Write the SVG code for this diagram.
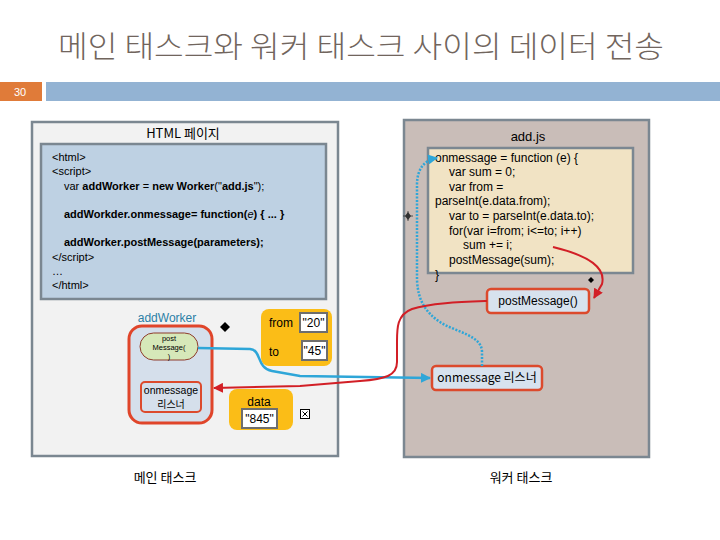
<svg xmlns="http://www.w3.org/2000/svg" width="720" height="540" viewBox="0 0 720 540">
<defs>
<style>
text{font-family:"Liberation Sans","Noto Sans CJK KR",sans-serif;fill:#000}
.title{font-family:"Noto Sans CJK KR","Liberation Sans",sans-serif;font-size:30px;fill:#71655d;font-weight:300}
.kr{font-family:"Noto Sans CJK KR","Liberation Sans",sans-serif}
.code{font-size:11px}
.b{font-weight:bold}
.wcode{font-size:12px}
.panel{stroke:#7b8791;stroke-width:2.5}
.org{fill:#fbbd17}
.val{fill:#fff;stroke:#6e6e6e;stroke-width:2}
.cy{fill:none;stroke:#2ea6d8;stroke-width:2.5}
.rd{fill:none;stroke:#d21f26;stroke-width:2}
</style>
<marker id="ab" viewBox="0 0 10 10" refX="9" refY="5" markerWidth="4" markerHeight="4" orient="auto"><path d="M0,0 L10,5 L0,10 z" fill="#2ea6d8"/></marker>
<marker id="ar" viewBox="0 0 10 10" refX="9" refY="5" markerWidth="5" markerHeight="5" orient="auto"><path d="M0,0 L10,5 L0,10 z" fill="#d21f26"/></marker>
</defs>
<rect width="720" height="540" fill="#fff"/>
<text class="title" x="361" y="57" text-anchor="middle" textLength="606" lengthAdjust="spacingAndGlyphs">메인 태스크와 워커 태스크 사이의 데이터 전송</text>
<rect x="0" y="82" width="42" height="19" fill="#e07b39"/>
<text x="20" y="96" text-anchor="middle" font-size="11" style="fill:#fff">30</text>
<rect x="46" y="82" width="674" height="19" fill="#93b3d3"/>

<g id="main-task">
<rect class="panel" x="32" y="122" width="306" height="334" fill="#f2f2f2"/>
<text class="kr" x="183" y="138" text-anchor="middle" font-size="13">HTML 페이지</text>
<rect class="panel" x="41" y="144" width="285" height="155" fill="#bed1e3"/>
<text class="code" x="52" y="161">&lt;html&gt;</text>
<text class="code" x="52" y="175">&lt;script&gt;</text>
<text class="code" x="64" y="190">var <tspan class="b">addWorker</tspan> = <tspan class="b">new Worker</tspan>("<tspan class="b">add.js</tspan>");</text>
<text class="code b" x="64" y="218">addWorkder.onmessage= function(<tspan font-style="italic" font-weight="normal">e</tspan>) { ... }</text>
<text class="code b" x="64" y="246">addWorker.postMessage(parameters);</text>
<text class="code" x="52" y="261">&lt;/script&gt;</text>
<text class="code" x="52" y="275">…</text>
<text class="code" x="52" y="289">&lt;/html&gt;</text>
<text class="kr" x="165" y="482" text-anchor="middle" font-size="13">메인 태스크</text>
</g>

<g id="worker-task">
<rect class="panel" x="404" y="120" width="245" height="337" fill="#c9bdb8"/>
<text x="528" y="141" text-anchor="middle" font-size="13">add.js</text>
<rect class="panel" x="428" y="148" width="205" height="125" fill="#f1e3c4"/>
<text class="wcode" x="435" y="162">onmessage = function (e) {</text>
<text class="wcode" x="449" y="176">var sum = 0;</text>
<text class="wcode" x="449" y="191">var from =</text>
<text class="wcode" x="435" y="205">parseInt(e.data.from);</text>
<text class="wcode" x="449" y="220">var to = parseInt(e.data.to);</text>
<text class="wcode" x="449" y="235">for(var i=from; i&lt;=to; i++)</text>
<text class="wcode" x="463" y="249">sum += i;</text>
<text class="wcode" x="449" y="264">postMessage(sum);</text>
<text class="wcode" x="435" y="279">}</text>
<text class="kr" x="521" y="482" text-anchor="middle" font-size="13">워커 태스크</text>
</g>

<g id="worker-postmessage">
<rect x="487" y="289" width="102" height="24" rx="4" fill="#d7e2ee" stroke="#dc4a2c" stroke-width="2.5"/>
<text x="538" y="305" text-anchor="middle" font-size="12">postMessage()</text>
</g>

<g id="worker-onmessage">
<rect x="432" y="366" width="110" height="24" rx="4" fill="#d7e2ee" stroke="#dc4a2c" stroke-width="2.5"/>
<text class="kr" x="487" y="382" text-anchor="middle" font-size="12">onmessage 리스너</text>
</g>

<g id="addworker">
<text x="167" y="322" text-anchor="middle" font-size="12" style="fill:#2b7fa6">addWorker</text>
<rect x="129" y="326" width="83" height="97" rx="13" fill="#d5dfeb" stroke="#e0452a" stroke-width="3"/>
</g>

<g id="main-postmessage">
<rect x="140" y="333" width="58" height="27" rx="13.5" fill="#d6e8b9" stroke="#8e3b2c" stroke-width="1"/>
<text x="169" y="341" text-anchor="middle" font-size="7.5">post</text>
<text x="169" y="350" text-anchor="middle" font-size="7.5">Message(</text>
<text x="169" y="359" text-anchor="middle" font-size="7.5">)</text>
</g>

<g id="main-onmessage">
<rect x="141" y="382" width="60" height="30" rx="4" fill="#d5dfeb" stroke="#dc4a2c" stroke-width="2"/>
<text x="171" y="394" text-anchor="middle" font-size="10.5">onmessage</text>
<text class="kr" x="171" y="408" text-anchor="middle" font-size="10">리스너</text>
</g>

<g id="params">
<rect class="org" x="261" y="309" width="71" height="57" rx="8"/>
<text x="269" y="327" font-size="12">from</text>
<text x="269" y="356" font-size="12">to</text>
<rect class="val" x="300" y="313" width="27" height="19"/>
<text x="313.5" y="327" text-anchor="middle" font-size="12">"20"</text>
<rect class="val" x="302" y="341" width="25" height="19"/>
<text x="314.5" y="355" text-anchor="middle" font-size="12">"45"</text>
</g>

<g id="data">
<rect class="org" x="229" y="389" width="64" height="41" rx="8"/>
<text x="259" y="406" text-anchor="middle" font-size="12">data</text>
<rect class="val" x="242" y="409" width="35" height="19"/>
<text x="259.5" y="423" text-anchor="middle" font-size="12">"845"</text>
</g>

<g id="marks">
<path d="M225,322 L230,327 L225,332 L220,327 z" fill="#000"/>
<path d="M591,277 L594,280 L591,283 L588,280 z" fill="#000"/>
<path d="M408,212 L411,216 L408,220 L405,216 z" fill="#333"/>
<path d="M403,216 H413 M408,211 V221" stroke="#333" stroke-width="0.8"/>
<rect x="300.5" y="409.5" width="9" height="9" fill="#fff" stroke="#000" stroke-width="1"/>
<path d="M302.5,411.5 L307.5,416.5 M307.5,411.5 L302.5,416.5" stroke="#000" stroke-width="1"/>
</g>

<g id="connectors">
<path class="cy" d="M198,348 L250,349 C262,350 256,368 272,371 L300,376 L430,378" marker-end="url(#ab)"/>
<path class="cy" stroke-dasharray="2 1.5" stroke-width="3" d="M482,366 L482,352 C482,335 455,332 440,322 C425,312 418,300 417,280 L417,185 C417,168 425,160 437,158" marker-end="url(#ab)"/>
<path class="rd" d="M487,301 C460,302 430,303 412,309 C396,315 397,330 397,345 L397,362 C397,376 385,379 360,381 L300,386 L214,388" marker-end="url(#ar)"/>
<path class="rd" d="M553,247 C590,256 606,268 602,284 L594,298" marker-end="url(#ar)"/>
</g>
</svg>
